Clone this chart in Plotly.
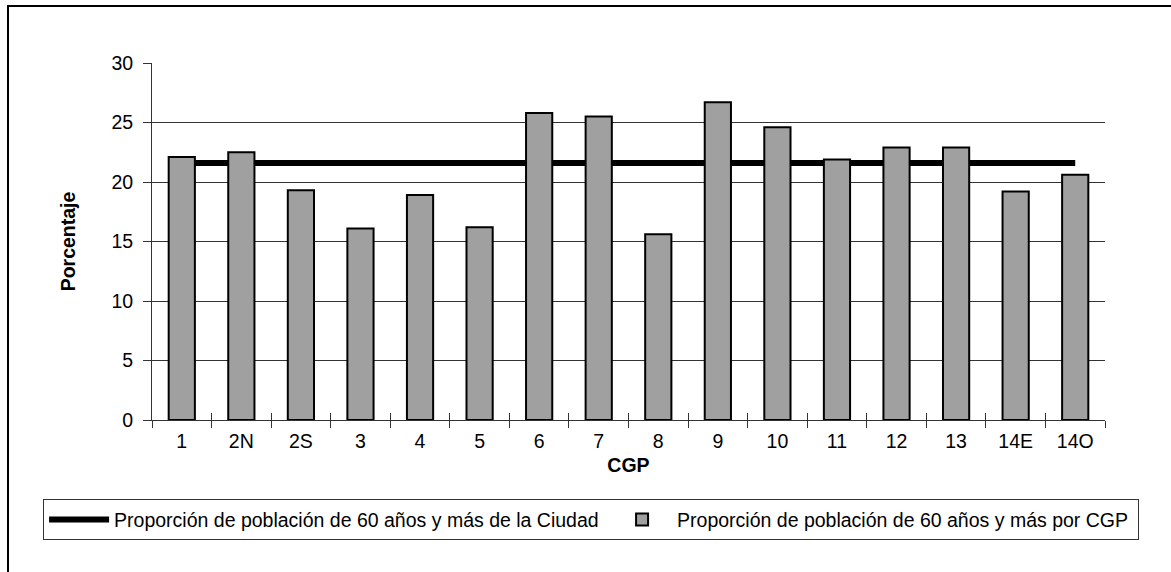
import plotly.graph_objects as go

# ---- data ----
cgp = ["1", "2N", "2S", "3", "4", "5", "6", "7", "8", "9", "10", "11", "12", "13", "14E", "14O"]
prop_cgp = [22.1, 22.5, 19.3, 16.1, 18.9, 16.2, 25.8, 25.5, 15.6, 26.7, 24.6, 21.9, 22.9, 22.9, 19.2, 20.6]
prop_ciudad = 21.6
y_ticks = [0, 5, 10, 15, 20, 25, 30]

name_line = "Proporción de población de 60 años y más de la Ciudad"
name_bar = "Proporción de población de 60 años y más por CGP"
x_title = "CGP"
y_title = "Porcentaje"

FONT = "Liberation Sans, Arial, sans-serif"
FS = 19.5
DARK = "#333333"

fig = go.Figure()
# city line on the base subplot (drawn underneath)
fig.add_trace(go.Scatter(
    x=cgp, y=[prop_ciudad] * len(cgp), mode="lines", name=name_line,
    line=dict(color="black", width=6), hoverinfo="skip", legendwidth=488))
# bars on an overlaying x axis so they are drawn above the line
fig.add_trace(go.Bar(
    x=cgp, y=prop_cgp, name=name_bar, xaxis="x2", legendwidth=456,
    marker=dict(color="#A0A0A0", line=dict(color="black", width=2))))

fig.update_layout(
    width=1171, height=572,
    margin=dict(l=152, r=66, t=63, b=152),
    paper_bgcolor="white", plot_bgcolor="white",
    font=dict(family=FONT, size=FS, color="black"),
    bargap=0.56,
    showlegend=True,
    xaxis=dict(
        type="category", range=[-0.5, 15.5], categoryorder="array", categoryarray=cgp,
        showline=True, linecolor=DARK, linewidth=1,
        ticks="outside", tickson="boundaries", ticklen=7, tickcolor=DARK, tickwidth=1,
        showgrid=False, zeroline=False, ticklabelstandoff=4,
        tickfont=dict(size=FS),
        title=dict(text="<b>" + x_title + "</b>", standoff=6, font=dict(size=FS)),
    ),
    xaxis2=dict(
        type="category", range=[-0.5, 15.5], categoryorder="array", categoryarray=cgp,
        overlaying="x", anchor="y", side="bottom",
        showline=False, ticks="inside", tickson="boundaries", ticklen=7, tickcolor=DARK,
        tickwidth=1, showticklabels=False, showgrid=False, zeroline=False,
    ),
    yaxis=dict(
        range=[0, 30], tickvals=y_ticks,
        showline=True, linecolor=DARK, linewidth=1,
        ticks="outside", ticklen=8, tickcolor=DARK, tickwidth=1,
        showgrid=True, gridcolor=DARK, gridwidth=1, zeroline=False,
        ticklabelstandoff=6,
        tickfont=dict(size=FS),
        title=dict(text="<b>" + y_title + "</b>", standoff=30, font=dict(size=FS)),
    ),
    legend=dict(
        orientation="h", x=-0.1143, xanchor="left", y=-0.2225, yanchor="top",
        bordercolor=DARK, borderwidth=1, bgcolor="white",
        font=dict(size=FS), traceorder="normal", itemwidth=60,
    ),
    shapes=[dict(
        type="rect", xref="paper", yref="paper",
        x0=-0.1511, x1=1.08, y0=-0.45, y1=1.1597,
        line=dict(color="black", width=2), fillcolor="rgba(0,0,0,0)", layer="above",
    )],
)

fig.write_html("out.html", config={"displayModeBar": False},
               post_script="document.body.style.margin='0px';")
